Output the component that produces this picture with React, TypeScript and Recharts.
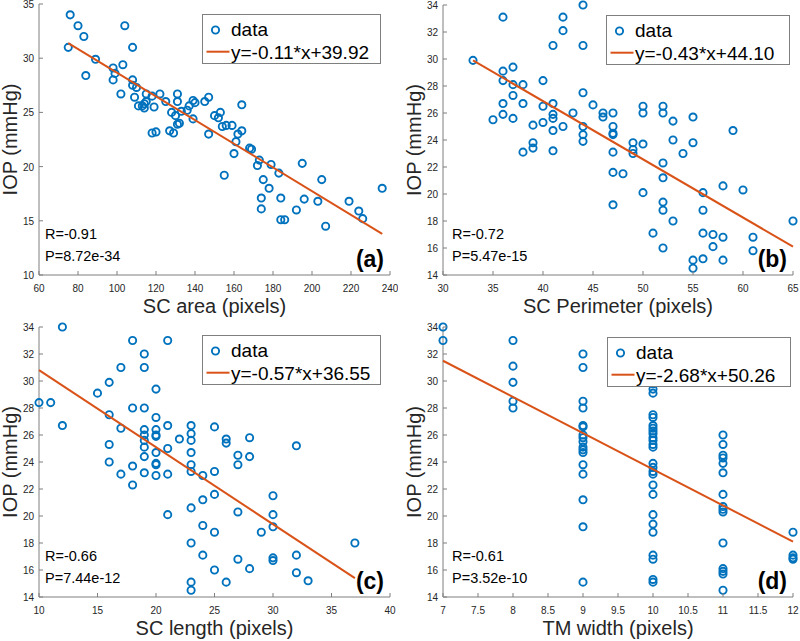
import { ScatterChart, Scatter, XAxis, YAxis } from "recharts";

// ---- data ----
const scArea = [
  76, 80, 83, 75, 104, 108, 89, 84, 98, 103, 98, 99, 108, 108, 110, 102, 109, 115, 118, 122,
  111, 113, 114, 114, 115, 119, 118, 120, 125, 131, 131, 128, 130, 133, 131, 132, 127, 129, 136, 137,
  139, 140, 139, 145, 147, 147, 150, 152, 153, 154, 156, 159, 164, 164, 162, 161, 160, 168, 169, 155,
  173, 172, 179, 175, 178, 183, 174, 174, 184, 184, 186, 192, 195, 196, 203, 205, 207, 219, 224, 226,
  236,
];
const iopArea = [
  34.0, 33.0, 32.0, 31.0, 33.0, 31.0, 29.9, 28.4, 29.1, 29.4, 28.0, 28.6, 28.0, 27.5, 27.3, 26.7, 26.4, 26.7, 26.5, 26.7,
  25.6, 25.6, 25.8, 25.4, 26.0, 25.5, 23.1, 23.2, 26.0, 26.7, 26.0, 25.0, 24.7, 25.1, 23.9, 24.0, 23.3, 23.1, 25.2, 25.6,
  26.1, 25.9, 24.4, 26.0, 26.4, 23.0, 24.7, 24.5, 25.0, 23.7, 23.8, 23.8, 25.7, 23.3, 23.0, 22.3, 21.2, 21.7, 21.6, 19.2,
  20.6, 20.1, 20.2, 18.8, 18.0, 19.4, 17.1, 16.1, 17.1, 15.1, 15.1, 16.0, 20.3, 17.0, 16.8, 18.8, 14.5, 16.8, 15.9, 15.2,
  18.0,
];

const scPerimeter = [
  33, 36, 36, 36, 37, 37, 37, 38, 36, 36, 35, 37, 38, 38, 39, 39, 39, 40, 40, 40,
  41, 41, 41, 41, 41, 41, 42, 42, 42, 43, 44, 44, 44, 44, 44, 44, 45, 46, 46, 47,
  47, 47, 47, 47, 47, 47, 48, 49, 49, 49, 50, 50, 50, 50, 51, 52, 52, 52, 52, 52,
  52, 52, 53, 53, 53, 54, 55, 55, 55, 55, 56, 56, 56, 56, 57, 57, 58, 58, 58, 59,
  60, 61, 61, 65,
];
const iopPerimeter = [
  29.9, 33.1, 29.1, 28.4, 29.4, 28.1, 27.3, 28.1, 26.7, 25.9, 25.5, 25.6, 26.7, 23.1, 25.1, 23.8, 23.4, 28.4, 26.5, 25.3,
  31.0, 26.7, 25.9, 25.6, 24.7, 23.2, 33.1, 32.1, 25.0, 26.0, 34.0, 31.0, 27.5, 25.0, 24.4, 23.9, 26.6, 26.0, 25.7, 26.0,
  25.0, 24.5, 24.4, 23.1, 21.6, 19.2, 21.5, 23.8, 23.3, 23.0, 26.5, 26.0, 23.7, 20.1, 17.1, 26.5, 26.0, 22.3, 21.2, 19.4,
  18.8, 16.0, 25.4, 24.0, 18.0, 23.0, 25.7, 23.8, 15.1, 14.5, 20.1, 18.8, 17.1, 15.2, 17.0, 16.1, 20.6, 16.8, 15.1, 24.7,
  20.3, 16.8, 15.8, 18.0,
];

const scLength = [
  10, 11, 12, 12, 15, 16, 16, 16, 16, 17, 17, 17, 18, 18, 18, 18, 19, 19, 19, 19,
  19, 19, 19, 19, 19, 20, 20, 20, 20, 20, 20, 20, 20, 20, 21, 21, 21, 21, 21, 22,
  23, 23, 23, 23, 23, 23, 23, 23, 23, 23, 24, 24, 24, 24, 25, 25, 25, 25, 25, 26,
  26, 26, 27, 27, 27, 27, 28, 28, 28, 29, 30, 30, 30, 30, 30, 32, 32, 32, 33, 37,
];
const iopLength = [
  28.4, 28.4, 34.0, 26.7, 29.1, 29.9, 27.5, 25.3, 24.0, 31.0, 26.5, 23.1, 33.0, 28.0, 23.7, 22.3, 32.0, 31.0, 28.0, 26.4,
  26.0, 25.6, 25.1, 24.4, 23.2, 29.4, 27.3, 26.4, 26.0, 25.9, 24.7, 23.9, 23.8, 23.0, 33.0, 26.7, 25.0, 23.1, 20.1, 25.7,
  26.7, 26.1, 25.6, 24.7, 23.8, 23.3, 20.6, 18.0, 15.1, 14.5, 23.0, 21.2, 19.3, 17.1, 26.6, 23.3, 21.6, 18.8, 16.0, 25.7,
  25.4, 15.1, 24.5, 23.8, 20.3, 16.8, 25.8, 24.4, 16.1, 18.8, 21.5, 20.1, 19.2, 16.9, 16.7, 25.2, 17.1, 15.8, 15.2, 18.0,
];

const tmWidth = [
  7, 7,
  8, 8, 8, 8, 8,
  9, 9, 9, 9, 9, 9, 9, 9, 9, 9, 9, 9, 9, 9, 9, 9, 9,
  10, 10, 10, 10, 10, 10, 10, 10, 10, 10, 10, 10, 10, 10, 10, 10, 10, 10, 10, 10, 10, 10, 10, 10, 10, 10,
  11, 11, 11, 11, 11, 11, 11, 11, 11, 11, 11, 11, 11, 11, 11,
  12, 12, 12, 12,
];
const iopWidth = [
  34.0, 33.0,
  33.0, 31.1, 29.9, 28.5, 28.0,
  32.0, 31.0, 28.5, 28.0, 26.7, 26.6, 26.0, 25.8, 25.5, 25.1, 24.9, 24.7, 23.8, 23.1, 21.2, 19.2, 15.1,
  29.8, 29.4, 29.1, 27.5, 27.3, 26.7, 26.5, 26.3, 26.1, 25.8, 25.6, 25.3, 25.1, 23.9, 23.6, 23.3, 23.1, 22.3, 21.6, 20.1,
  19.4, 18.8, 17.1, 16.8, 15.3, 15.1,
  26.0, 25.3, 24.5, 24.3, 23.9, 23.2, 21.6, 20.7, 20.5, 20.3, 18.0, 16.1, 15.9, 15.7, 14.5,
  18.8, 17.1, 16.9, 16.8,
];

// fitted line end points
const fitArea = [{ x: 75, y: 31.4 }, { x: 236, y: 13.8 }];
const fitPerimeter = [{ x: 33, y: 29.9 }, { x: 65, y: 16.1 }];
const fitLength = [{ x: 10, y: 30.8 }, { x: 37, y: 15.4 }];
const fitWidth = [{ x: 7, y: 31.5 }, { x: 12, y: 18.1 }];

// ticks
const areaTicks = [60, 80, 100, 120, 140, 160, 180, 200, 220, 240];
const perimeterTicks = [30, 35, 40, 45, 50, 55, 60, 65];
const lengthTicks = [10, 15, 20, 25, 30, 35, 40];
const widthTicks = [7, 7.5, 8, 8.5, 9, 9.5, 10, 10.5, 11, 11.5, 12];
const iopTicksArea = [10, 15, 20, 25, 30, 35];
const iopTicks = [14, 16, 18, 20, 22, 24, 26, 28, 30, 32, 34];

const BLUE = "#0072BD";
const ORANGE = "#D95319";
const AXIS = "#7f7f7f";
const INK = "#262626";
const FONT = "'Liberation Sans', Arial, Helvetica, sans-serif";
const TICK = 4;

const zip = (xs: number[], ys: number[]) => xs.map((x, i) => ({ x, y: ys[i] }));

const PANELS = [
  {
    left: 39, top: 4, w: 351, h: 271,
    xDomain: [60, 240], xTicks: areaTicks, yDomain: [10, 35], yTicks: iopTicksArea,
    points: zip(scArea, iopArea), fit: fitArea,
    xLabel: "SC area (pixels)", eq: "y=-0.11*x+39.92", r: "R=-0.91", p: "P=8.72e-34", tag: "(a)",
    legend: { dx: 163, dy: 10, w: 178 }, statX: 45,
  },
  {
    left: 443, top: 5, w: 350, h: 270,
    xDomain: [30, 65], xTicks: perimeterTicks, yDomain: [14, 34], yTicks: iopTicks,
    points: zip(scPerimeter, iopPerimeter), fit: fitPerimeter,
    xLabel: "SC Perimeter (pixels)", eq: "y=-0.43*x+44.10", r: "R=-0.72", p: "P=5.47e-15", tag: "(b)",
    legend: { dx: 163, dy: 10, w: 183 }, statX: 452,
  },
  {
    left: 39, top: 327, w: 351, h: 270,
    xDomain: [10, 40], xTicks: lengthTicks, yDomain: [14, 34], yTicks: iopTicks,
    points: zip(scLength, iopLength), fit: fitLength,
    xLabel: "SC length (pixels)", eq: "y=-0.57*x+36.55", r: "R=-0.66", p: "P=7.44e-12", tag: "(c)",
    legend: { dx: 163, dy: 8, w: 178 }, statX: 45,
  },
  {
    left: 443, top: 327, w: 350, h: 270,
    xDomain: [7, 12], xTicks: widthTicks, yDomain: [14, 34], yTicks: iopTicks,
    points: zip(tmWidth, iopWidth), fit: fitWidth,
    xLabel: "TM width (pixels)", eq: "y=-2.68*x+50.26", r: "R=-0.61", p: "P=3.52e-10", tag: "(d)",
    legend: { dx: 164, dy: 10, w: 183 }, statX: 452,
  },
];

// MATLAB-style inward ticks
const bottomTick = (p: any) => (
  <g>
    <line x1={p.x} x2={p.x} y1={p.y} y2={p.y - TICK} stroke={AXIS} />
    <text x={p.x} y={p.y + 17} textAnchor="middle" fontSize={10} fill={INK} fontFamily={FONT}>
      {String(p.payload.value)}
    </text>
  </g>
);
const leftTick = (p: any) => (
  <g>
    <line x1={p.x} x2={p.x + TICK} y1={p.y} y2={p.y} stroke={AXIS} />
    <text x={p.x - 5} y={p.y + 4} textAnchor="end" fontSize={10} fill={INK} fontFamily={FONT}>
      {String(p.payload.value)}
    </text>
  </g>
);
const topTick = (p: any) => <line x1={p.x} x2={p.x} y1={p.y} y2={p.y + TICK} stroke={AXIS} />;
const rightTick = (p: any) => <line x1={p.x} x2={p.x - TICK} y1={p.y} y2={p.y} stroke={AXIS} />;

const ringDot = (p: any) => (
  <circle cx={p.cx} cy={p.cy} r={3.6} fill="none" stroke={BLUE} strokeWidth={1.9} />
);
const noDot = () => <g />;

function Panel({ cfg }: { cfg: (typeof PANELS)[number] }) {
  const padL = 45;
  return (
    <div style={{ position: "absolute", left: cfg.left - padL, top: cfg.top - 10 }}>
      <ScatterChart
        width={cfg.w + padL + 8}
        height={cfg.h + 10 + 45}
        margin={{ top: 10, right: 8, bottom: 0, left: 0 }}
      >
        <XAxis
          type="number" dataKey="x" domain={cfg.xDomain} ticks={cfg.xTicks} interval={0}
          height={45} axisLine={{ stroke: AXIS }} tickLine={false} tickSize={0} tickMargin={0}
          tick={bottomTick}
        />
        <YAxis
          type="number" dataKey="y" domain={cfg.yDomain} ticks={cfg.yTicks} interval={0}
          width={padL} axisLine={{ stroke: AXIS }} tickLine={false} tickSize={0} tickMargin={0}
          tick={leftTick}
        />
        <XAxis
          xAxisId="top" orientation="top" type="number" domain={cfg.xDomain} ticks={cfg.xTicks}
          interval={0} height={0} allowDataOverflow axisLine={{ stroke: AXIS }} tickLine={false}
          tickSize={0} tickMargin={0} tick={topTick}
        />
        <YAxis
          yAxisId="right" orientation="right" type="number" domain={cfg.yDomain} ticks={cfg.yTicks}
          interval={0} width={0} allowDataOverflow axisLine={{ stroke: AXIS }} tickLine={false}
          tickSize={0} tickMargin={0} tick={rightTick}
        />
        <Scatter data={cfg.points} shape={ringDot} isAnimationActive={false} />
        <Scatter
          data={cfg.fit}
          line={{ stroke: ORANGE, strokeWidth: 2 }}
          shape={noDot}
          isAnimationActive={false}
        />
      </ScatterChart>
    </div>
  );
}

function Annotations({ cfg }: { cfg: (typeof PANELS)[number] }) {
  const right = cfg.left + cfg.w;
  const bottom = cfg.top + cfg.h;
  const bx = cfg.left + cfg.legend.dx;
  const by = cfg.top + cfg.legend.dy;
  const ylx = cfg.left - 22.5;
  const ycy = cfg.top + cfg.h / 2;
  return (
    <g>
      <text x={cfg.left + cfg.w / 2} y={bottom + 38} textAnchor="middle" fontSize={20} fill={INK}>
        {cfg.xLabel}
      </text>
      <text
        x={ylx} y={ycy} textAnchor="middle" fontSize={20} fill={INK}
        transform={`rotate(-90 ${ylx} ${ycy})`}
      >
        IOP (mmHg)
      </text>
      <text x={cfg.statX} y={bottom - 36} fontSize={14.5} fill="#000">{cfg.r}</text>
      <text x={cfg.statX} y={bottom - 14} fontSize={14.5} fill="#000">{cfg.p}</text>
      <text x={right - 6} y={bottom - 8} textAnchor="end" fontSize={23} fontWeight="bold" fill="#000">
        {cfg.tag}
      </text>
      <rect x={bx + 0.5} y={by + 0.5} width={cfg.legend.w} height={49} fill="#fff" stroke={AXIS} />
      <circle cx={bx + 13.5} cy={by + 16} r={3.6} fill="none" stroke={BLUE} strokeWidth={1.9} />
      <text x={bx + 29} y={by + 22} fontSize={19} fill="#000">data</text>
      <line x1={bx + 4.5} x2={bx + 27.5} y1={by + 37.7} y2={by + 37.7} stroke={ORANGE} strokeWidth={2} />
      <text x={bx + 29} y={by + 45} fontSize={19} fill="#000">{cfg.eq}</text>
    </g>
  );
}

export default function App() {
  return (
    <div
      style={{
        position: "absolute", left: 0, top: 0, width: 800, height: 641,
        background: "#fff", fontFamily: FONT, overflow: "hidden",
      }}
    >
      {PANELS.map((cfg, i) => (
        <Panel key={i} cfg={cfg} />
      ))}
      <svg
        width={800} height={641} fontFamily={FONT}
        style={{ position: "absolute", left: 0, top: 0, pointerEvents: "none" }}
      >
        {PANELS.map((cfg, i) => (
          <Annotations key={i} cfg={cfg} />
        ))}
      </svg>
    </div>
  );
}
